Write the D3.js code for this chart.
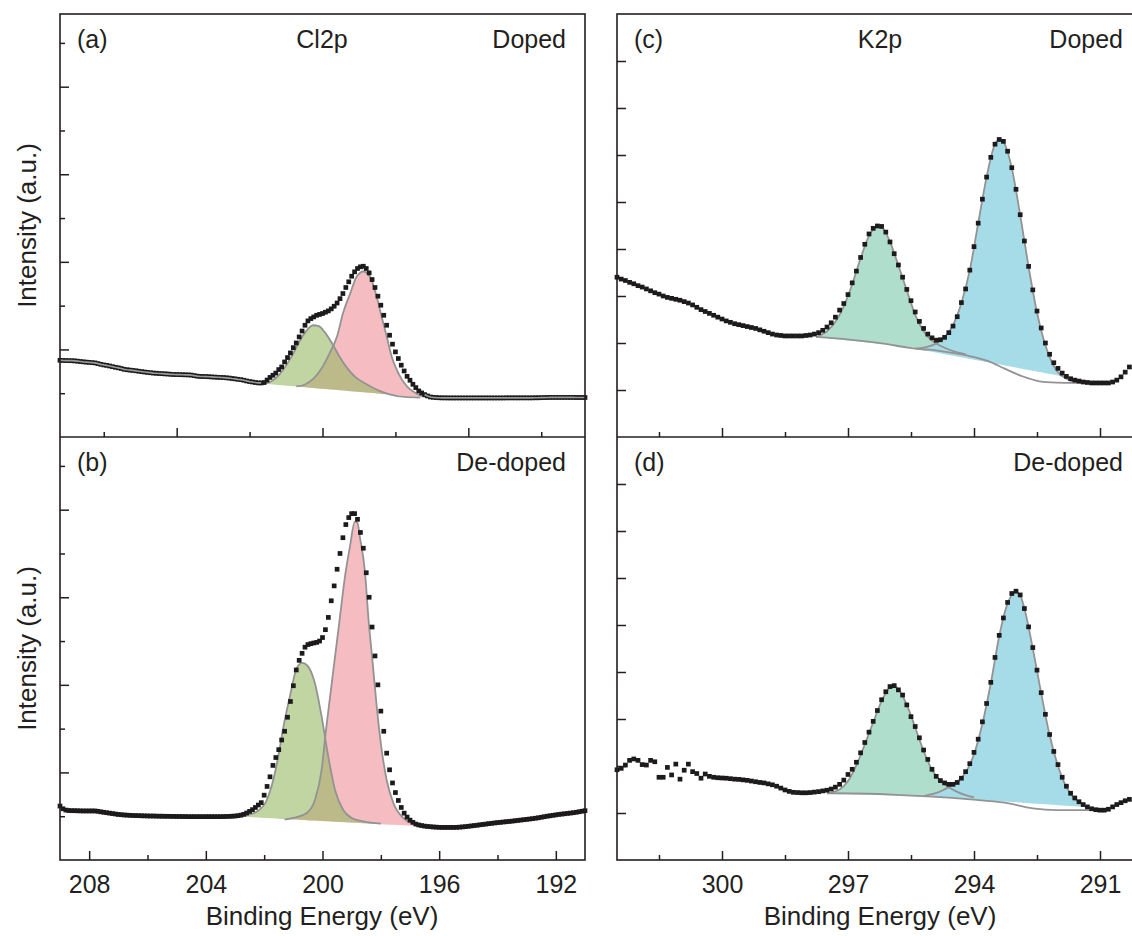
<!DOCTYPE html>
<html>
<head>
<meta charset="utf-8">
<script src="https://cdnjs.cloudflare.com/ajax/libs/d3/7.8.5/d3.min.js"></script>
<style>
  body { margin: 0; background: #fff; }
  text { font-family: "Liberation Sans", Arial, sans-serif; fill: #231f20; }
</style>
</head>
<body>
<div id="chart"></div>
<script>
// XPS spectra: Cl2p (a,b) and K2p (c,d), doped vs de-doped, with fitted peaks

var svgWidth = 1132;
var svgHeight = 936;
var panelTop = 14, panelMid = 437, panelBottom = 860;

// binding energy grids, 0.1 eV steps
var clEnergy = d3.range(181).map(i => +(209 - i * 0.1).toFixed(1));
var kEnergy = d3.range(123).map(i => +(302.5 - i * 0.1).toFixed(1));

// measured intensities (a.u.)
var clDoped = [
  .876,.874,.873,.872,.871,.869,.866,.862,.858,.855,
  .852,.849,.846,.838,.830,.823,.818,.811,.803,.796,
  .790,.782,.773,.768,.764,.760,.756,.751,.746,.742,
  .738,.734,.730,.728,.725,.723,.721,.719,.716,.714,
  .713,.712,.711,.710,.709,.707,.701,.695,.692,.691,
  .690,.688,.686,.684,.682,.680,.679,.676,.673,.668,
  .664,.659,.655,.648,.640,.633,.628,.622,.618,.617,
  .622,
  .65,.68,.705,.73,.77,.80,.857,.907,.96,1.02,
  1.074,1.143,1.21,1.276,1.326,1.352,1.371,1.39,1.40,1.41,
  1.425,1.44,1.463,1.493,1.53,1.58,1.638,1.707,1.772,1.836,
  1.886,1.924,1.943,1.95,1.924,1.874,1.798,1.707,1.608,1.505,
  1.39,1.276,1.162,1.06,.972,.896,.82,.754,.693,.648,
  .602,.564,.526,.503,.484,.469,.457,.453,.45,.448,
  .447,.447,.446,.446,.446,.446,.446,.446,.446,.446,
  .446,.446,.446,.446,.446,.446,.446,.446,.446,.446,
  .446,.446,.447,.447,.447,.447,.447,.447,.447,.447,
  .447,.447,.448,.448,.449,.450,.451,.452,.452,.452,
  .452,.452,.452,.452,.452,.452,.451,.451,.451,.451
];
var clDedoped = [
  .616,.585,.57,.565,.563,.563,.562,.561,.56,.56,
  .56,.56,.56,.556,.55,.545,.54,.535,.53,.525,
  .52,.517,.514,.512,.51,.508,.507,.506,.505,.504,
  .503,.502,.502,.501,.50,.50,.499,.499,.498,.498,
  .497,.497,.496,.496,.495,.495,.495,.495,.495,.495,
  .495,.495,.495,.495,.495,.495,.496,.497,.498,.50,
  .502,.506,.512,.522,.537,.555,.575,.60,.628,.655,
  .74,.84,.95,1.08,1.17,1.26,1.37,1.47,1.63,1.81,
  1.99,2.17,2.28,2.36,2.43,2.46,2.47,2.478,2.485,2.50,
  2.54,2.63,2.77,2.96,3.13,3.32,3.50,3.68,3.83,3.91,
  3.955,3.955,3.89,3.74,3.56,3.28,3.0,2.66,2.33,2.0,
  1.70,1.47,1.22,1.03,.88,.77,.68,.60,.535,.49,
  .455,.43,.41,.40,.393,.387,.383,.38,.377,.375,
  .373,.372,.372,.372,.372,.372,.373,.375,.378,.381,
  .385,.389,.393,.397,.402,.406,.41,.415,.419,.423,
  .427,.43,.434,.437,.44,.444,.448,.452,.456,.46,
  .464,.468,.472,.477,.482,.488,.494,.50,.505,.51,
  .515,.52,.524,.528,.532,.536,.54,.545,.551,.557,
  .563
];
var kDoped = [
  3.40,3.36,3.33,3.29,3.26,3.22,3.19,3.15,3.11,3.07,
  3.04,3.00,2.97,2.95,2.93,2.91,2.88,2.85,2.81,2.76,
  2.71,2.67,2.63,2.59,2.55,2.51,2.47,2.44,2.41,2.39,
  2.37,2.35,2.33,2.31,2.28,2.25,2.22,2.19,2.17,2.16,
  2.15,2.15,2.15,2.15,2.15,2.16,2.17,2.19,2.22,2.27,
  2.34,2.43,2.55,2.70,2.84,3.03,3.28,3.53,3.82,4.10,
  4.32,4.44,4.49,4.48,4.36,4.15,3.90,3.66,3.40,3.14,
  2.90,2.66,2.46,2.31,2.19,2.11,2.06,2.07,2.12,2.22,
  2.36,2.56,2.86,3.15,3.55,4.05,4.55,5.06,5.53,5.95,
  6.23,6.33,6.29,6.08,5.73,5.27,4.73,4.17,3.63,3.13,
  2.68,2.32,2.00,1.76,1.58,1.46,1.36,1.29,1.24,1.21,
  1.19,1.17,1.16,1.15,1.15,1.15,1.15,1.15,1.17,1.21,
  1.28,1.38,1.49
];
var kDedoped = [
  1.92,1.95,2.02,2.12,2.15,2.12,2.03,2.02,2.12,2.09,
  1.76,1.76,1.97,1.81,2.04,1.72,1.91,2.04,1.88,1.84,
  1.74,1.83,1.78,1.76,1.75,1.745,1.74,1.73,1.72,1.715,
  1.705,1.695,1.68,1.665,1.65,1.64,1.62,1.60,1.57,1.53,
  1.49,1.46,1.44,1.435,1.43,1.43,1.435,1.445,1.455,1.47,
  1.485,1.51,1.55,1.61,1.70,1.82,1.93,2.08,2.28,2.50,
  2.72,2.95,3.18,3.41,3.58,3.69,3.71,3.62,3.51,3.30,
  3.05,2.84,2.60,2.34,2.14,1.93,1.78,1.69,1.64,1.61,
  1.61,1.65,1.74,1.88,2.05,2.29,2.57,2.94,3.33,3.78,
  4.31,4.78,5.15,5.48,5.67,5.72,5.64,5.35,4.96,4.52,
  4.04,3.56,3.10,2.67,2.31,2.03,1.76,1.57,1.42,1.32,
  1.24,1.18,1.13,1.09,1.07,1.06,1.06,1.08,1.13,1.18,
  1.22,1.26,1.29
];

// fitted components [energy, intensity] and their straight fill baselines
var clDopedGreen = [[202.05,0.61],[201.9,0.617],[201.5,0.705],[201.1,0.895],[200.7,1.143],[200.45,1.25],
  [200.33,1.276],[200.13,1.265],[199.93,1.2],[199.67,1.067],[199.41,0.914],[199.14,0.781],[198.88,0.686],
  [198.49,0.602],[198.09,0.533],[197.7,0.488],[197.17,0.457],[196.65,0.45]];
var clDopedRed = [[200.9,0.577],[200.6,0.6],[200.3,0.67],[200.0,0.8],[199.75,0.96],[199.5,1.15],[199.3,1.41],
  [199.05,1.64],[198.83,1.83],[198.6,1.89],[198.37,1.83],[198.14,1.6],[197.97,1.37],[197.8,1.15],[197.63,0.92],
  [197.4,0.73],[197.1,0.575],[196.8,0.5],[196.5,0.46],[196.2,0.45]];
var clDopedBase = [[202.05,0.61],[196.5,0.45]];

var clDedopedGreen = [[202.8,0.495],[202.5,0.52],[202.25,0.553],[201.91,0.685],[201.69,0.913],[201.52,1.177],
  [201.34,1.52],[201.12,1.865],[200.89,2.185],[200.7,2.25],[200.54,2.227],[200.26,2.018],[200.03,1.637],
  [199.8,1.177],[199.57,0.8],[199.29,0.571],[199.0,0.48],[198.6,0.44],[198.0,0.415]];
var clDedopedRed = [[201.3,0.462],[201.0,0.48],[200.54,0.537],[200.26,0.685],[200.03,1.028],[199.88,1.485],
  [199.74,1.865],[199.57,2.321],[199.4,2.778],[199.23,3.235],[199.06,3.577],[198.89,3.863],[198.8,3.85],
  [198.72,3.69],[198.54,3.277],[198.43,2.778],[198.28,2.25],[198.14,1.75],[197.97,1.256],[197.8,0.913],
  [197.57,0.65],[197.23,0.48],[196.77,0.4],[196.4,0.385]];
var clDedopedBase = [[202.8,0.495],[196.6,0.385]];

var kDopedBg = [[297.76,2.129],[296.98,2.073],[296.15,1.987],[295.57,1.902],[295.24,1.867],[294.91,1.845],
  [294.5,1.789],[294.09,1.718],[293.68,1.618],[293.27,1.455],[292.85,1.292],[292.44,1.185],[292.03,1.157],
  [291.62,1.15],[291.21,1.15]];
var kDopedGreen = [[297.76,2.13],[297.5,2.25],[297.3,2.45],[297.1,2.78],[296.9,3.25],[296.7,3.8],[296.5,4.28],
  [296.35,4.45],[296.27,4.48],[296.15,4.42],[296.0,4.15],[295.8,3.65],[295.6,3.12],[295.4,2.6],[295.2,2.25],
  [295.0,2.05],[294.9,1.99],[294.7,1.9],[294.5,1.83],[294.2,1.76]];
var kDopedBlue = [[295.4,1.88],[295.2,1.9],[295.0,1.95],[294.9,1.99],[294.7,2.12],[294.5,2.38],[294.3,2.85],
  [294.1,3.55],[293.9,4.55],[293.7,5.53],[293.5,6.23],[293.38,6.33],[293.3,6.28],[293.1,5.72],[292.9,4.72],
  [292.7,3.62],[292.5,2.65],[292.3,1.95],[292.15,1.6],[292.0,1.38],[291.8,1.24],[291.6,1.17],[291.4,1.15]];
var kDopedGreenBase = [[297.76,2.13],[294.9,1.85]];
var kDopedBlueBase = [[295.4,1.88],[291.95,1.30]];

var kDedopedBg = [[297.5,1.42],[296.5,1.41],[295.74,1.38],[295.0,1.347],[294.09,1.29],[293.27,1.22],
  [292.6,1.10],[292.03,1.063],[291.0,1.06]];
var kDedopedGreen = [[297.5,1.42],[297.2,1.5],[297.0,1.68],[296.8,2.02],[296.6,2.46],[296.4,2.93],[296.2,3.38],
  [296.0,3.67],[295.9,3.70],[295.8,3.63],[295.6,3.30],[295.4,2.82],[295.2,2.32],[295.0,1.92],[294.8,1.68],
  [294.6,1.55],[294.4,1.45],[294.2,1.38],[294.0,1.33]];
var kDedopedBlue = [[295.2,1.36],[295.0,1.40],[294.8,1.46],[294.6,1.55],[294.4,1.66],[294.2,1.86],[294.0,2.25],
  [293.8,2.90],[293.6,3.76],[293.4,4.76],[293.2,5.46],[293.0,5.70],[292.9,5.63],[292.8,5.35],[292.6,4.50],
  [292.4,3.55],[292.2,2.66],[292.0,2.0],[291.8,1.55],[291.6,1.30],[291.4,1.17],[291.2,1.10],[291.0,1.07]];
var kDedopedGreenBase = [[297.5,1.42],[294.5,1.33]];
var kDedopedBlueBase = [[295.2,1.36],[291.4,1.13]];

// tick positions
var clMajorTicks = [208, 204, 200, 196, 192];
var clMinorTicks = [206, 202, 198, 194];
var clTopMajorTicks = [205, 200, 195];
var clTopMinorTicks = [207.5, 202.5, 197.5, 192.5];
var kMajorTicks = [300, 297, 294, 291];
var kMinorTicks = [301.5, 298.5, 295.5, 292.5];
var clYMajor = [1, 2, 3, 4];
var clYMinor = [0.5, 1.5, 2.5, 3.5, 4.5];
var kYTicks = [1, 2, 3, 4, 5, 6, 7, 8];

var ink = "#231f20";
var fitGray = "#939393";
var markSize = 4.7;

var svg = d3.select("#chart")
  .append("svg")
  .attr("width", svgWidth)
  .attr("height", svgHeight);

var xCl = d3.scaleLinear().domain([209, 191]).range([60, 585]);
var xK = d3.scaleLinear().domain([302.5, 290]).range([617, 1142]);

function styleAxis(g) {
  g.select(".domain").remove();
  g.selectAll("line").attr("stroke", ink).attr("stroke-width", 1.5);
  g.selectAll("text").attr("font-size", 25).attr("font-family", "'Liberation Sans', Arial, sans-serif").attr("fill", ink);
}

function drawPanel(p) {
  var g = svg.append("g");
  var x = p.x, y = p.y;
  var line = d3.line().x(d => x(d[0])).y(d => y(d[1])).curve(d3.curveMonotoneX);

  // component fills down to a straight baseline
  p.fills.forEach(function(f) {
    var base = d3.scaleLinear().domain([f.base[0][0], f.base[1][0]]).range([f.base[0][1], f.base[1][1]]);
    var area = d3.area()
      .x(d => x(d[0]))
      .y1(d => y(d[1]))
      .y0(d => y(Math.min(base(d[0]), d[1])))
      .curve(d3.curveMonotoneX);
    g.append("path").datum(f.points)
      .attr("d", area)
      .attr("fill", f.color)
      .attr("fill-opacity", f.opacity);
  });

  // fitted curves
  p.curves.forEach(function(c) {
    g.append("path").datum(c)
      .attr("d", line)
      .attr("fill", "none")
      .attr("stroke", fitGray)
      .attr("stroke-width", 1.8);
  });

  // measured points
  var pts = p.energy.map((e, i) => [e, p.values[i]]);
  g.selectAll("rect.pt")
    .data(pts)
    .enter()
    .append("rect")
    .attr("class", "pt")
    .attr("x", d => x(d[0]) - markSize / 2)
    .attr("y", d => y(d[1]) - markSize / 2)
    .attr("width", markSize)
    .attr("height", markSize)
    .attr("fill", "#1c1a1a");

  // grey envelope over the flat parts
  if (p.core) {
    p.core.forEach(function(r) {
      g.append("path").datum(pts.filter(d => d[0] <= r[0] && d[0] >= r[1]))
        .attr("d", d3.line().x(d => x(d[0])).y(d => y(d[1])))
        .attr("fill", "none")
        .attr("stroke", "#9a9a9a")
        .attr("stroke-width", 1.7);
    });
  }

  var y0 = y.range()[0];
  var x0 = x.range()[0];

  // x ticks (inward)
  g.append("g")
    .attr("transform", `translate(0, ${y0})`)
    .call(d3.axisBottom(x).tickValues(p.xMajor).tickSize(-9).tickPadding(15)
      .tickFormat(p.labels ? d3.format("d") : ""))
    .call(styleAxis);
  g.append("g")
    .attr("transform", `translate(0, ${y0})`)
    .call(d3.axisBottom(x).tickValues(p.xMinor).tickSize(-5).tickFormat(""))
    .call(styleAxis);

  // y ticks (inward, no labels)
  p.yTicks.forEach(function(t) {
    g.append("g")
      .attr("transform", `translate(${x0}, 0)`)
      .call(d3.axisLeft(y).tickValues(t.values).tickSize(-t.len).tickFormat(""))
      .call(styleAxis);
  });

  // panel texts
  var yl = y.range()[1] + 34;
  g.append("text").attr("x", x0 + 17).attr("y", yl).attr("font-size", 25).text(p.tag);
  g.append("text").attr("x", x0 + 506).attr("y", yl).attr("font-size", 25)
    .attr("text-anchor", "end").text(p.state);
  if (p.element) {
    g.append("text").attr("x", p.elementX).attr("y", yl).attr("font-size", 25)
      .attr("text-anchor", "middle").text(p.element);
  }
}

var yClTop = d3.scaleLinear().domain([0, 4.83]).range([panelMid, panelTop]);
var yClBot = d3.scaleLinear().domain([0, 4.83]).range([panelBottom, panelMid]);
var yKTop = d3.scaleLinear().domain([0, 9]).range([panelMid, panelTop]);
var yKBot = d3.scaleLinear().domain([0, 9]).range([panelBottom, panelMid]);

var clYTicks = [{ values: clYMajor, len: 9 }, { values: clYMinor, len: 5 }];
var kYTickSet = [{ values: kYTicks, len: 9 }];

var pink = "#f5bcc1", olive = "#96b964", teal = "#afdfcc", sky = "#a6dbe8";

drawPanel({
  x: xCl, y: yClTop, energy: clEnergy, values: clDoped,
  fills: [
    { points: clDopedRed, base: clDopedBase, color: pink, opacity: 1 },
    { points: clDopedGreen, base: clDopedBase, color: olive, opacity: 0.6 }
  ],
  curves: [clDopedGreen, clDopedRed],
  core: [[209, 202.1], [196.5, 191]],
  xMajor: clTopMajorTicks, xMinor: clTopMinorTicks, labels: false,
  yTicks: clYTicks, tag: "(a)", state: "Doped", element: "Cl2p", elementX: 322
});

drawPanel({
  x: xCl, y: yClBot, energy: clEnergy, values: clDedoped,
  fills: [
    { points: clDedopedRed, base: clDedopedBase, color: pink, opacity: 1 },
    { points: clDedopedGreen, base: clDedopedBase, color: olive, opacity: 0.6 }
  ],
  curves: [clDedopedGreen, clDedopedRed],
  xMajor: clMajorTicks, xMinor: clMinorTicks, labels: true,
  yTicks: clYTicks, tag: "(b)", state: "De-doped"
});

drawPanel({
  x: xK, y: yKTop, energy: kEnergy, values: kDoped,
  fills: [
    { points: kDopedGreen, base: kDopedGreenBase, color: teal, opacity: 1 },
    { points: kDopedBlue, base: kDopedBlueBase, color: sky, opacity: 1 }
  ],
  curves: [kDopedBg, kDopedGreen, kDopedBlue],
  xMajor: kMajorTicks, xMinor: kMinorTicks, labels: false,
  yTicks: kYTickSet, tag: "(c)", state: "Doped", element: "K2p", elementX: 880
});

drawPanel({
  x: xK, y: yKBot, energy: kEnergy, values: kDedoped,
  fills: [
    { points: kDedopedGreen, base: kDedopedGreenBase, color: teal, opacity: 1 },
    { points: kDedopedBlue, base: kDedopedBlueBase, color: sky, opacity: 1 }
  ],
  curves: [kDedopedBg, kDedopedGreen, kDedopedBlue],
  xMajor: kMajorTicks, xMinor: kMinorTicks, labels: true,
  yTicks: kYTickSet, tag: "(d)", state: "De-doped"
});

// frames
[[60, 525], [617, 525]].forEach(function(f) {
  svg.append("rect")
    .attr("x", f[0]).attr("y", panelTop)
    .attr("width", f[1]).attr("height", panelBottom - panelTop)
    .attr("fill", "none").attr("stroke", ink).attr("stroke-width", 1.6);
  svg.append("line")
    .attr("x1", f[0]).attr("x2", f[0] + f[1])
    .attr("y1", panelMid).attr("y2", panelMid)
    .attr("stroke", ink).attr("stroke-width", 1.6);
});

// axis titles
svg.append("text").attr("x", 322).attr("y", 925).attr("font-size", 26)
  .attr("text-anchor", "middle").text("Binding Energy (eV)");
svg.append("text").attr("x", 880).attr("y", 925).attr("font-size", 26)
  .attr("text-anchor", "middle").text("Binding Energy (eV)");
[225.5, 648.5].forEach(function(cy) {
  svg.append("text")
    .attr("transform", `translate(36, ${cy}) rotate(-90)`)
    .attr("font-size", 26)
    .attr("text-anchor", "middle")
    .text("Intensity (a.u.)");
});
</script>
</body>
</html>
